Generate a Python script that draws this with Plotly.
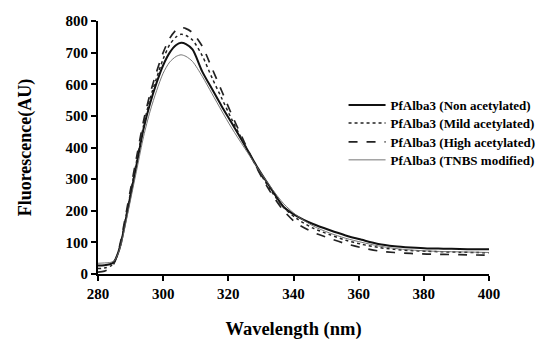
import plotly.graph_objects as go

wavelength = [280, 282, 284, 285, 286, 287, 288, 290, 292, 294, 296, 298, 300, 302, 304, 305.5,
              307, 309, 312, 315, 318, 321, 325, 329, 333, 337, 341, 346, 351, 356, 361, 366,
              371, 376, 381, 386, 391, 396, 400]

non_acetylated = [27, 28, 32, 40, 62, 95, 145, 250, 355, 460, 540, 605, 660, 700, 724, 731,
                  727, 710, 640, 585, 530, 478, 408, 336, 272, 212, 183, 158, 139, 122, 108, 95,
                  88, 84, 81, 80, 79, 78, 78]
mild_acetylated = [17, 19, 26, 38, 62, 100, 150, 258, 365, 470, 555, 620, 680, 725, 750, 758,
                   754, 740, 690, 620, 555, 490, 410, 332, 265, 210, 175, 145, 125, 107, 94, 84,
                   78, 74, 72, 70, 69, 68, 67]
high_acetylated = [6, 9, 20, 35, 62, 105, 158, 268, 378, 485, 570, 640, 700, 745, 772, 779,
                   776, 763, 720, 650, 578, 505, 415, 330, 258, 200, 160, 132, 113, 96, 83, 73,
                   68, 65, 63, 62, 61, 60, 60]
tnbs_modified = [34, 35, 37, 42, 60, 90, 135, 235, 335, 435, 515, 580, 635, 670, 688, 693,
                 688, 672, 625, 570, 515, 462, 398, 335, 275, 222, 185, 152, 130, 113, 100, 89,
                 81, 76, 73, 71, 70, 69, 68]

names = ["PfAlba3 (Non acetylated)", "PfAlba3 (Mild acetylated)",
         "PfAlba3 (High acetylated)", "PfAlba3 (TNBS modified)"]

x_ticks = [280, 300, 320, 340, 360, 380, 400]
y_ticks = [0, 100, 200, 300, 400, 500, 600, 700, 800]

FONT = "Liberation Serif"

fig = go.Figure()
series = [non_acetylated, mild_acetylated, high_acetylated, tnbs_modified]
styles = [dict(color="#111111", width=2.0, dash="solid"),
          dict(color="#222222", width=1.5, dash="dot"),
          dict(color="#222222", width=1.7, dash="dash"),
          dict(color="#666666", width=0.9, dash="solid")]
legend_ids = ["legend", "legend2", "legend3", "legend4"]
legend_rows = [0.668, 0.597, 0.522, 0.451]
for name, ys, st, lid in zip(names, series, styles, legend_ids):
    fig.add_trace(go.Scatter(x=wavelength, y=ys, mode="lines", name=name, legend=lid,
                             line=dict(shape="spline", smoothing=0.8, **st)))

legend_common = dict(x=0.628, xanchor="left", yanchor="middle", itemwidth=37,
                     font=dict(family=FONT, size=13, color="black", weight="bold"),
                     bgcolor="rgba(0,0,0,0)", borderwidth=0)

fig.update_layout(
    width=545, height=344,
    margin=dict(l=98, r=56, t=21, b=70, autoexpand=False),
    paper_bgcolor="white", plot_bgcolor="white",
    font=dict(family=FONT, color="black", size=15, weight="bold"),
    showlegend=True,
    xaxis=dict(range=[280, 400], tickvals=x_ticks, ticktext=[str(v) for v in x_ticks],
               automargin=False,
               showline=True, linecolor="black", linewidth=2, ticks="outside",
               ticklen=5, tickwidth=2, tickcolor="black", showgrid=False, zeroline=False,
               tickfont=dict(family=FONT, size=15, weight="bold"),
               title=dict(text="Wavelength (nm)", standoff=21,
                          font=dict(family=FONT, size=18.5, weight="bold"))),
    yaxis=dict(range=[0, 800], tickvals=y_ticks, ticktext=[str(v) for v in y_ticks],
               automargin=False,
               showline=True, linecolor="black", linewidth=2, ticks="outside",
               ticklen=5, tickwidth=2, tickcolor="black", showgrid=False, zeroline=False,
               tickfont=dict(family=FONT, size=15, weight="bold"),
               title=dict(text="Fluorescence(AU)", standoff=29,
                          font=dict(family=FONT, size=18, weight="bold"))),
)
for lid, ly in zip(legend_ids, legend_rows):
    fig.update_layout({lid: dict(y=ly, **legend_common)})

fig.write_html("out.html", config={"displayModeBar": False},
               post_script="document.body.style.margin='0';document.body.style.padding='0';")
